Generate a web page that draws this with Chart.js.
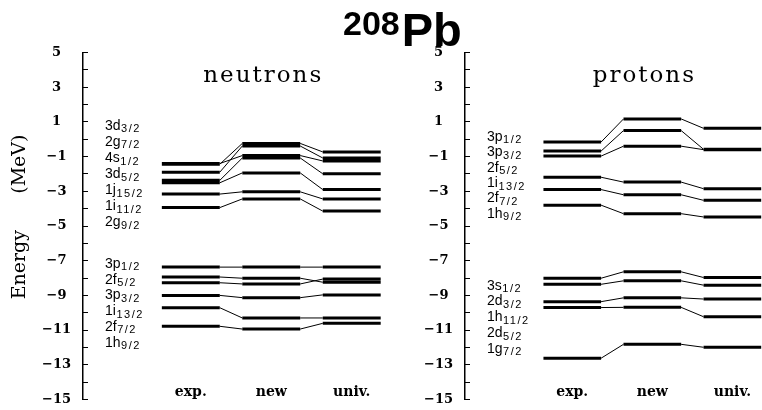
<!DOCTYPE html>
<html>
<head>
<meta charset="utf-8">
<script src="https://cdn.jsdelivr.net/npm/chart.js@4.4.0/dist/chart.umd.min.js"></script>
<style>
  html, body { margin: 0; padding: 0; background: #fff; }
  #page { position: relative; width: 762px; height: 410px; overflow: hidden; }
  .panel { position: absolute; top: 0; }
  #left { left: 0; }
  #right { left: 382px; }
  #nucleus { position: absolute; left: 343px; top: 0; display: flex; align-items: flex-start;
             font-family: 'Liberation Sans', sans-serif; font-weight: bold; line-height: 1; color: #000; }
  #mass { font-size: 34px; margin-top: 6px; }
  #symbol { font-size: 47px; margin-top: 6px; margin-left: 2px; }
</style>
</head>
<body>
<div id="page">
  <div class="panel" id="left"><canvas id="neutronChart" width="400" height="410"></canvas></div>
  <div class="panel" id="right"><canvas id="protonChart" width="380" height="410"></canvas></div>
  <div id="nucleus"><span id="mass">208</span><span id="symbol">Pb</span></div>
</div>
<script>
const columns = ['exp.', 'new', 'univ.'];

// neutron levels above the N=126 gap (MeV)
const neutronUpperLabels = ['3d3/2', '2g7/2', '4s1/2', '3d5/2', '1j15/2', '1i11/2', '2g9/2'];
const neutronUpperExp  = [-1.40, -1.44, -1.90, -2.37, -2.51, -3.16, -3.94];
const neutronUpperNew  = [-0.94, -0.24, -0.39, -1.08, -1.94, -3.03, -3.44];
const neutronUpperUniv = [-1.25, -0.73, -1.08, -1.99, -2.90, -3.44, -4.14];

// neutron levels below the gap
const neutronLowerLabels = ['3p1/2', '2f5/2', '3p3/2', '1i13/2', '2f7/2', '1h9/2'];
const neutronLowerExp  = [-7.37, -7.94, -8.27, -9.00, -9.71, -10.78];
const neutronLowerNew  = [-7.37, -8.01, -8.34, -9.13, -10.30, -10.94];
const neutronLowerUniv = [-7.37, -8.24, -8.06, -8.97, -10.30, -10.61];

// proton levels above the Z=82 gap
const protonUpperLabels = ['3p1/2', '3p3/2', '2f5/2', '1i13/2', '2f7/2', '1h9/2'];
const protonUpperExp  = [-0.16, -0.68, -0.97, -2.19, -2.90, -3.80];
const protonUpperNew  = [1.17, 0.50, -0.40, -2.47, -3.20, -4.29];
const protonUpperUniv = [0.63, -0.58, -0.60, -2.85, -3.52, -4.48];

// proton levels below the gap
const protonLowerLabels = ['3s1/2', '2d3/2', '1h11/2', '2d5/2', '1g7/2'];
const protonLowerExp  = [-8.01, -8.36, -9.36, -9.70, -12.62];
const protonLowerNew  = [-7.64, -8.16, -9.14, -9.69, -11.82];
const protonLowerUniv = [-7.97, -8.41, -9.21, -10.23, -11.99];

const HALF = 0.36; // half width of a level bar, in column units

// thick bars for every level, thin lines joining the same state across columns
function buildDatasets(groups) {
  const bars = [];
  const links = [];
  for (const g of groups) {
    g.exp.forEach((e, i) => {
      const vals = [e, g.nw[i], g.univ[i]];
      vals.forEach((v, c) => {
        bars.push({ x: c - HALF, y: v }, { x: c + HALF, y: v }, { x: c + HALF, y: null });
        if (c < 2) {
          links.push({ x: c + HALF, y: v }, { x: c + 1 - HALF, y: vals[c + 1] }, { x: c + 1 - HALF, y: null });
        }
      });
    });
  }
  return [
    { data: bars, borderColor: '#000', borderWidth: 3, borderCapStyle: 'butt', pointRadius: 0, spanGaps: false },
    { data: links, borderColor: '#000', borderWidth: 1, pointRadius: 0, spanGaps: false }
  ];
}

// panel heading and the stacked orbital names
const panelText = {
  id: 'panelText',
  afterDraw(chart, args, opts) {
    const { ctx, chartArea } = chart;
    const x = chart.scales.x, y = chart.scales.y;
    ctx.save();
    ctx.fillStyle = '#000';
    ctx.textBaseline = 'alphabetic';
    ctx.font = '23px "DejaVu Serif"';
    ctx.letterSpacing = '2px';
    ctx.textAlign = 'center';
    ctx.fillText(opts.title, x.getPixelForValue(0.9), y.getPixelForValue(3.3));

    ctx.textAlign = 'left';
    for (const g of opts.groups) {
      g.labels.forEach((lab, i) => {
        const m = lab.match(/^(\d[a-z])(\d+\/2)$/);
        const base = y.getPixelForValue(g.start) + i * g.step;
        const left = chartArea.left + 22;
        ctx.letterSpacing = '0px';
        ctx.font = '14px "Liberation Sans"';
        ctx.fillText(m[1], left, base);
        const w = ctx.measureText(m[1]).width;
        ctx.letterSpacing = '1.5px';
        ctx.font = '11px "Liberation Sans"';
        ctx.fillText(m[2], left + w + 0.5, base + 2.5);
      });
    }
    ctx.restore();
  }
};

function makeChart(id, title, groups, xMax, labelGroups) {
  return new Chart(document.getElementById(id), {
    type: 'line',
    data: { datasets: buildDatasets(groups) },
    options: {
      responsive: false,
      animation: false,
      events: [],
      layout: { padding: { top: 52.5, bottom: 10.5, left: 0, right: 0 } },
      plugins: {
        legend: { display: false },
        tooltip: { enabled: false },
        panelText: { title: title, groups: labelGroups }
      },
      scales: {
        x: {
          type: 'linear',
          min: -1.34,
          max: xMax,
          position: { y: -14 },
          afterFit: (scale) => { scale.height = 0; },
          border: { display: false },
          grid: { display: false, drawTicks: false },
          afterBuildTicks: (scale) => { scale.ticks = columns.map((c, i) => ({ value: i })); },
          ticks: {
            autoSkip: false,
            maxRotation: 0,
            padding: 2,
            color: '#000',
            font: { family: 'DejaVu Serif', size: 14, weight: 'bold' },
            callback: (v) => columns[v] ?? ''
          }
        },
        y: {
          min: -15,
          max: 5,
          afterFit: (scale) => {
            scale.width = 83;
            scale.paddingTop = 0;
            scale.paddingBottom = 0;
          },
          border: { display: true, color: '#000', width: 1.5 },
          grid: { drawOnChartArea: false, drawTicks: true, tickLength: -5, color: '#000', lineWidth: 1 },
          ticks: {
            stepSize: 1,
            autoSkip: false,
            padding: 17,
            crossAlign: 'center',
            color: '#000',
            font: { family: 'DejaVu Serif', size: 13, weight: 'bold' },
            callback: (v) => (v % 2 !== 0 ? String(v).replace('-', '\u2212') : '')
          },
          title: {
            display: id === 'neutronChart',
            text: '   Energy      (MeV)',
            color: '#000',
            font: { family: 'DejaVu Serif', size: 19 },
            padding: { top: 8.6, bottom: 0 }
          }
        }
      }
    },
    plugins: [panelText]
  });
}

makeChart('neutronChart', 'neutrons', [
  { exp: neutronUpperExp, nw: neutronUpperNew, univ: neutronUpperUniv },
  { exp: neutronLowerExp, nw: neutronLowerNew, univ: neutronLowerUniv }
], 2.6, [
  { labels: neutronUpperLabels, start: 0.54, step: 16.1 },
  { labels: neutronLowerLabels, start: -7.41, step: 15.74 }
]);

makeChart('protonChart', 'protons', [
  { exp: protonUpperExp, nw: protonUpperNew, univ: protonUpperUniv },
  { exp: protonLowerExp, nw: protonLowerNew, univ: protonLowerUniv }
], 2.37, [
  { labels: protonUpperLabels, start: -0.10, step: 15.34 },
  { labels: protonLowerLabels, start: -8.67, step: 15.8 }
]);
</script>
</body>
</html>
